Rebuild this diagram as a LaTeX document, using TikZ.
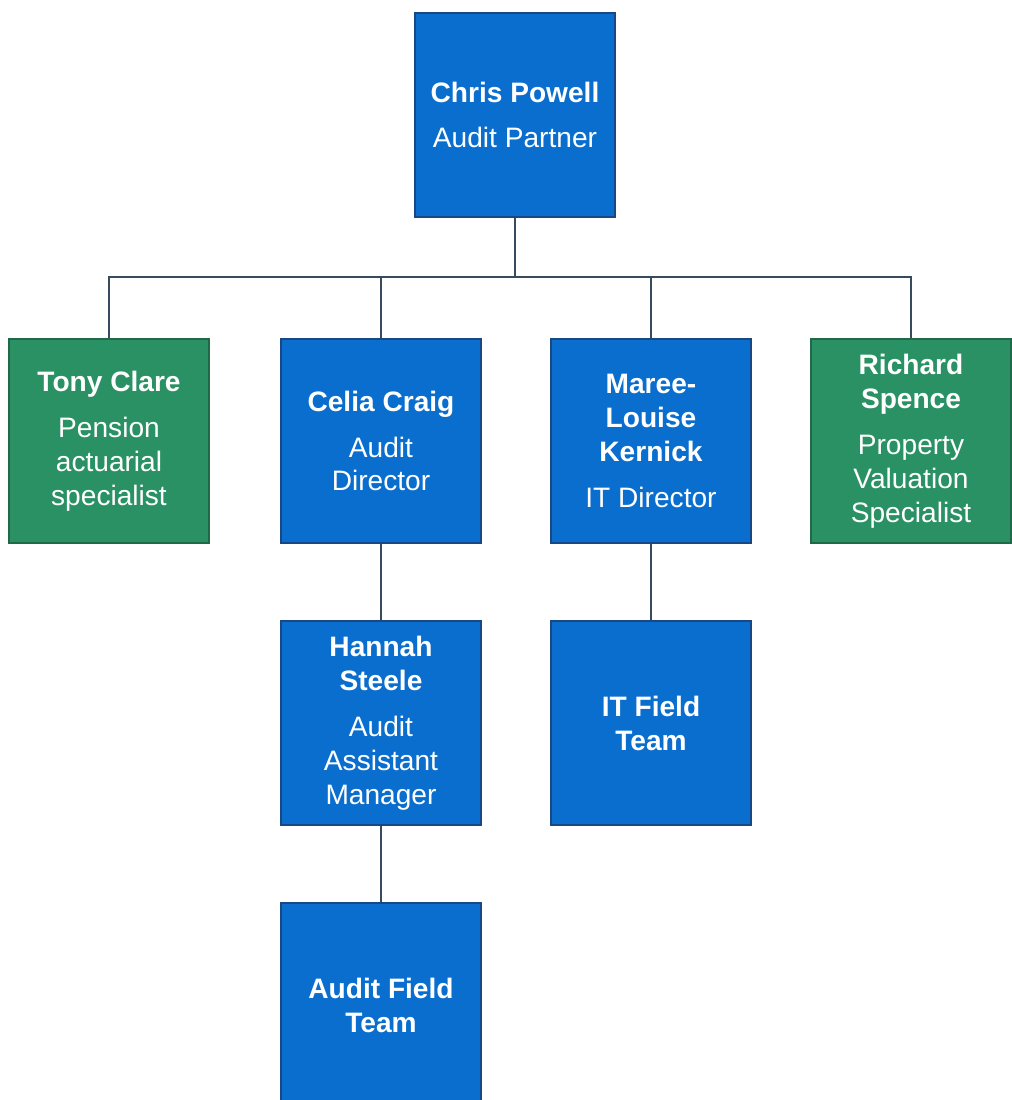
\documentclass[tikz,border=0pt]{standalone}
\usepackage{fontspec}
\setmainfont{Liberation Sans}
\usetikzlibrary{positioning}
\definecolor{clrBox}{RGB}{10,110,206}
\definecolor{clrBoxLine}{RGB}{24,72,132}
\definecolor{clrSpec}{RGB}{42,145,100}
\definecolor{clrSpecLine}{RGB}{32,104,72}
\definecolor{clrLink}{RGB}{55,75,95}
\tikzset{
  staff/.style={rectangle,draw=clrBoxLine,fill=clrBox,line width=1pt,text=white,
    minimum width=4cm,minimum height=4.08cm,align=center,inner sep=0pt,
    font=\fontsize{16}{19.3}\selectfont},
  spec/.style={staff,draw=clrSpecLine,fill=clrSpec},
  link/.style={clrLink,line width=1.1pt}
}

\begin{document}
\begin{tikzpicture}[x=0.02cm,y=-0.02cm]
  \useasboundingbox (0,0) rectangle (1012,1100);
  \def\gap{\\[6.8pt]}
  \node[staff] (chris) at (515,115) {\textbf{Chris Powell}\gap Audit Partner};
  \node[spec] (tony) at (109,441) {\textbf{Tony Clare}\gap Pension\\actuarial\\specialist};
  \node[staff] (celia) at (381,441) {\textbf{Celia Craig}\gap Audit\\Director};
  \node[staff] (maree) at (651,441) {\textbf{Maree-}\\\textbf{Louise}\\\textbf{Kernick}\gap IT Director};
  \node[spec] (richard) at (911,441) {\textbf{Richard}\\\textbf{Spence}\gap Property\\Valuation\\Specialist};
  \node[staff] (hannah) at (381,723) {\textbf{Hannah}\\\textbf{Steele}\gap Audit\\Assistant\\Manager};
  \node[staff] (itteam) at (651,723) {\textbf{IT Field}\\\textbf{Team}};
  \node[staff] (auditteam) at (381,1005) {\textbf{Audit Field}\\\textbf{Team}};
  % reporting lines
  \coordinate (bus) at (515,277);
  \draw[link] (chris) -- (bus);
  \foreach \n in {tony,celia,maree,richard}
    \draw[link] (bus) -| (\n.north);
  \draw[link] (celia) -- (hannah);
  \draw[link] (hannah) -- (auditteam);
  \draw[link] (maree) -- (itteam);
\end{tikzpicture}
\end{document}
